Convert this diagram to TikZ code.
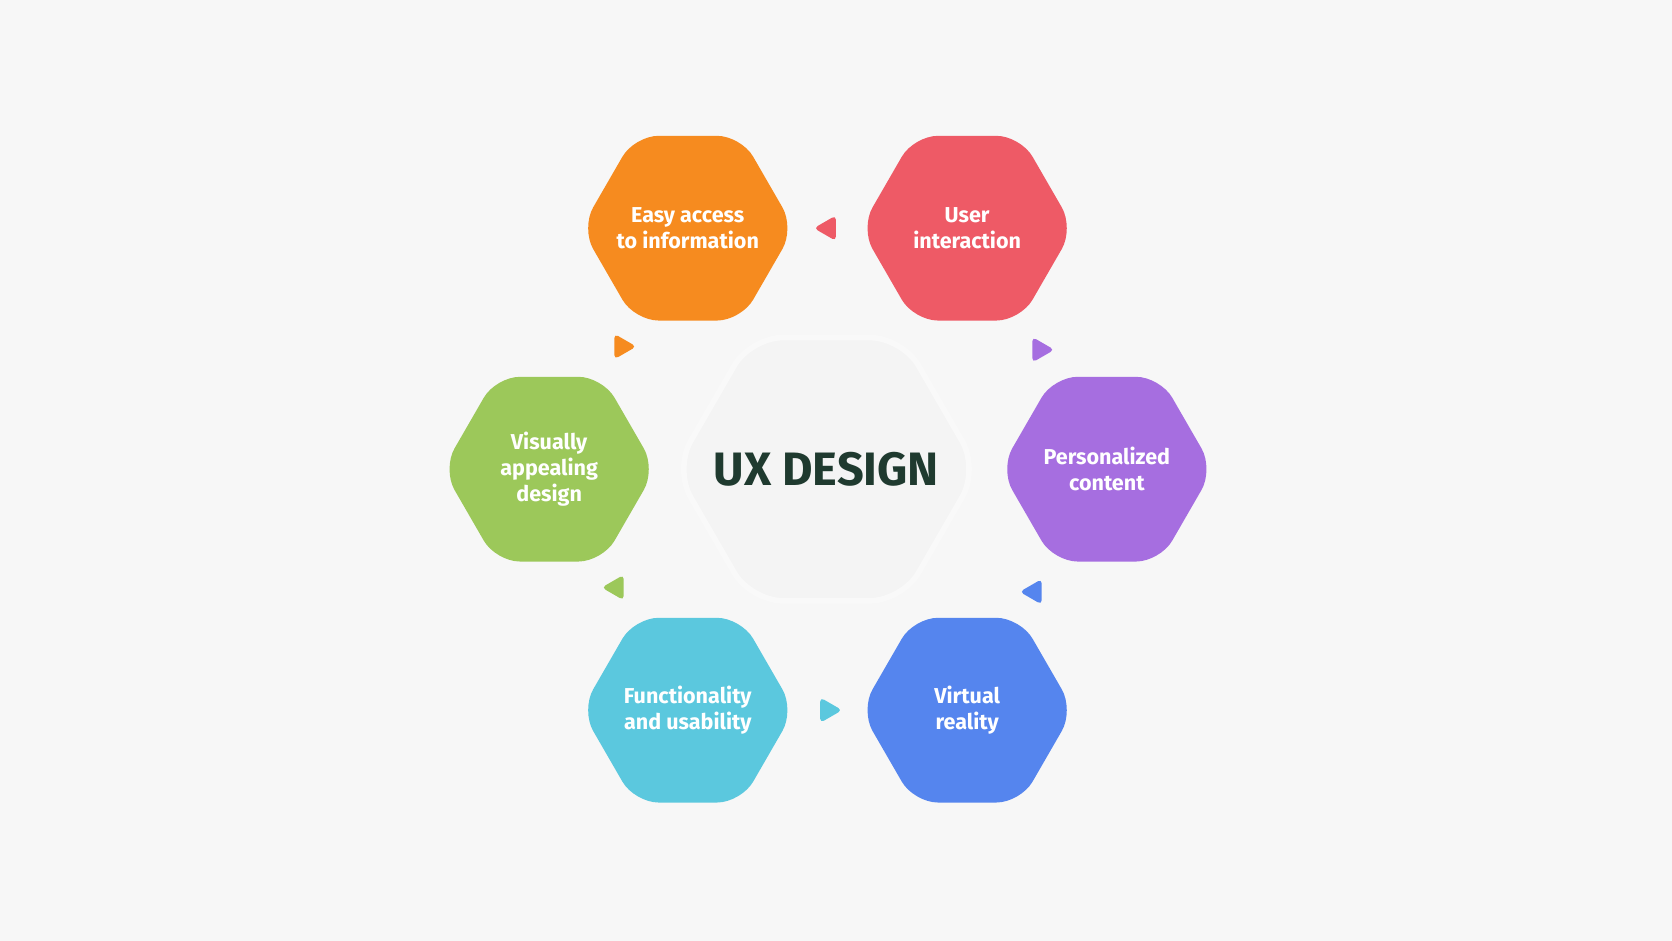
\documentclass[tikz,border=0pt]{standalone}
\usepackage{fontspec}
\setmainfont{Fira Sans}
\usetikzlibrary{shapes.geometric, positioning}
\definecolor{bgpaper}{HTML}{F7F7F7}
\definecolor{accorange}{HTML}{F68B1F}
\definecolor{accred}{HTML}{EE5A66}
\definecolor{accgreen}{HTML}{9CC85A}
\definecolor{accpurple}{HTML}{A66EE0}
\definecolor{acccyan}{HTML}{5BC8DE}
\definecolor{accblue}{HTML}{5585EE}
\definecolor{coretext}{HTML}{1F3A2F}
\tikzset{
    petal/.style={regular polygon, regular polygon sides=6, minimum size=4.0cm, rounded corners=0.45cm, draw=none, text=white, align=center, font=\fontsize{11.5}{14}\selectfont\bfseries, inner sep=-0.6cm},
    pointer/.style={regular polygon, regular polygon sides=3, minimum size=0.55cm, rounded corners=0.08cm, draw=none, inner sep=0pt}
}
\begin{document}
\begin{tikzpicture}
    \fill[bgpaper] (0,0) rectangle (31.36,17.64);
    \useasboundingbox (0,0) rectangle (31.36,17.64);

    % Core
    \node[regular polygon, regular polygon sides=6, minimum size=5.7cm, inner sep=-1cm, rounded corners=0.6cm, fill=gray!9, draw=gray!5, line width=3pt, text=coretext, font=\fontsize{25}{30}\selectfont\bfseries] (core) at (15.5,8.84) {UX DESIGN};

    % Petals
    \node[petal, fill=accorange] (access) at (12.9,13.36) {Easy access\\to information};
    \node[petal, fill=accred] (interact) at (18.14,13.36) {User\\interaction};
    \node[petal, fill=accpurple] (personal) at (20.76,8.84) {Personalized\\content};
    \node[petal, fill=accblue] (virtual) at (18.14,4.32) {Virtual\\reality};
    \node[petal, fill=acccyan] (usable) at (12.9,4.32) {Functionality\\and usability};
    \node[petal, fill=accgreen] (visual) at (10.3,8.84) {Visually\\appealing\\design};

    % Pointers
    \node[pointer, fill=accorange, shape border rotate=-90] (p1) at (11.66,11.14) {};
    \node[pointer, fill=accred, shape border rotate=90] (p2) at (15.54,13.36) {};
    \node[pointer, fill=accpurple, shape border rotate=-90] (p3) at (19.5,11.08) {};
    \node[pointer, fill=accblue, shape border rotate=90] (p4) at (19.4,6.54) {};
    \node[pointer, fill=acccyan, shape border rotate=-90] (p5) at (15.52,4.32) {};
    \node[pointer, fill=accgreen, shape border rotate=90] (p6) at (11.56,6.62) {};
\end{tikzpicture}
\end{document}
